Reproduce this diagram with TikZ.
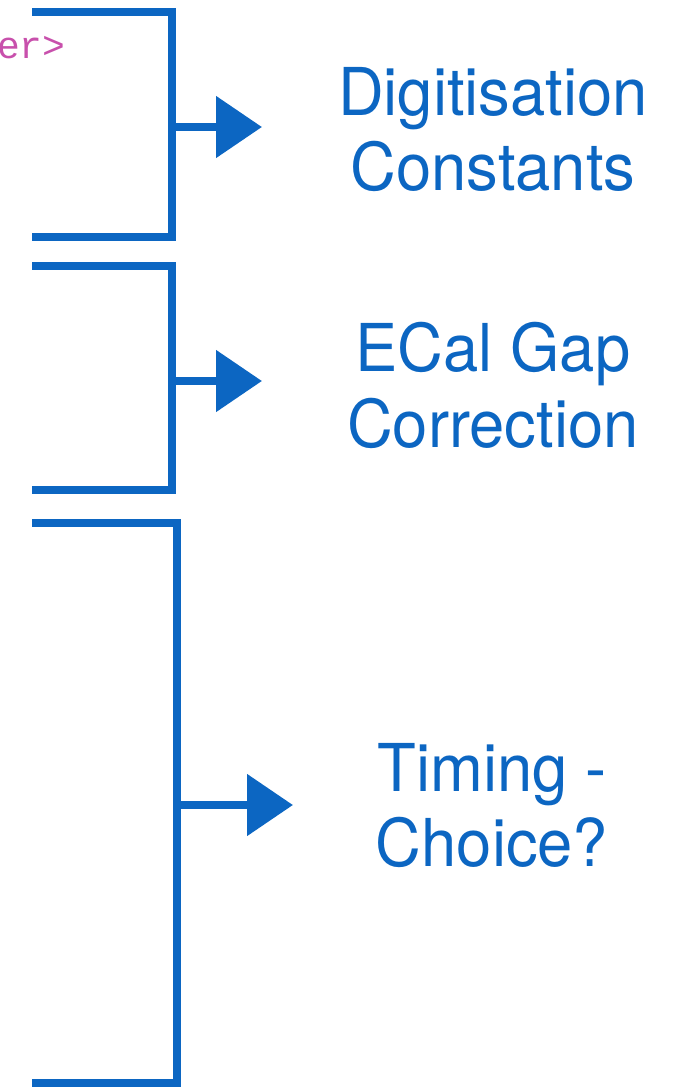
\documentclass[tikz,border=0pt]{standalone}
\usepackage{fontspec}
\setmainfont{TeX Gyre Heros}
\newfontfamily\labelfont[FakeStretch=0.96]{TeX Gyre Heros}
\newfontfamily\codefont{Liberation Mono}
\usetikzlibrary{arrows.meta,positioning}
\definecolor{penblue}{RGB}{12,102,194}
\definecolor{codepink}{RGB}{200,80,172}

\begin{document}
\begin{tikzpicture}[x=1pt,y=-1pt,
    pen/.style={draw=penblue, line width=8.5pt, line join=miter},
    penarrow/.style={pen, -{Triangle[length=46pt,width=60pt]}},
    steplabel/.style={text=penblue, font=\labelfont\fontsize{66}{75.5}\selectfont,
      align=center, inner sep=0pt, anchor=north}]
    \useasboundingbox (0,0) rectangle (675,1088);

    % cut-off code text at the top left
    \node[text=codepink, font=\codefont\fontsize{38}{40}\selectfont,
      anchor=base west, inner sep=0pt] (code) at (-3,58) {er>};

        % brackets: number / top / bottom / right edge / arrow height / arrow tip
        \foreach \n/\t/\b/\r/\ay/\tip in {1/12/237/172/127/262, 2/266/490/172/381/262, 3/523/1083/177/805/293} {
            \coordinate (top\n) at (32,\t);
            \coordinate (bot\n) at (32,\b);
            \coordinate (mid\n) at (\r,\ay);
            \coordinate (tip\n) at (\tip,\ay);
            \draw[pen] (top\n) -- (\r,\t) -- (\r,\b) -- (bot\n);
            \draw[penarrow] (mid\n) -- (tip\n);
        }

    \node[steplabel] (digi) at (493,67) {Digitisation\\Constants};
    \node[steplabel] (gap) at (493,322) {ECal Gap\\Correction};
    \node[steplabel] (timing) at (492,743) {Timing -\\Choice?};

\end{tikzpicture}
\end{document}
